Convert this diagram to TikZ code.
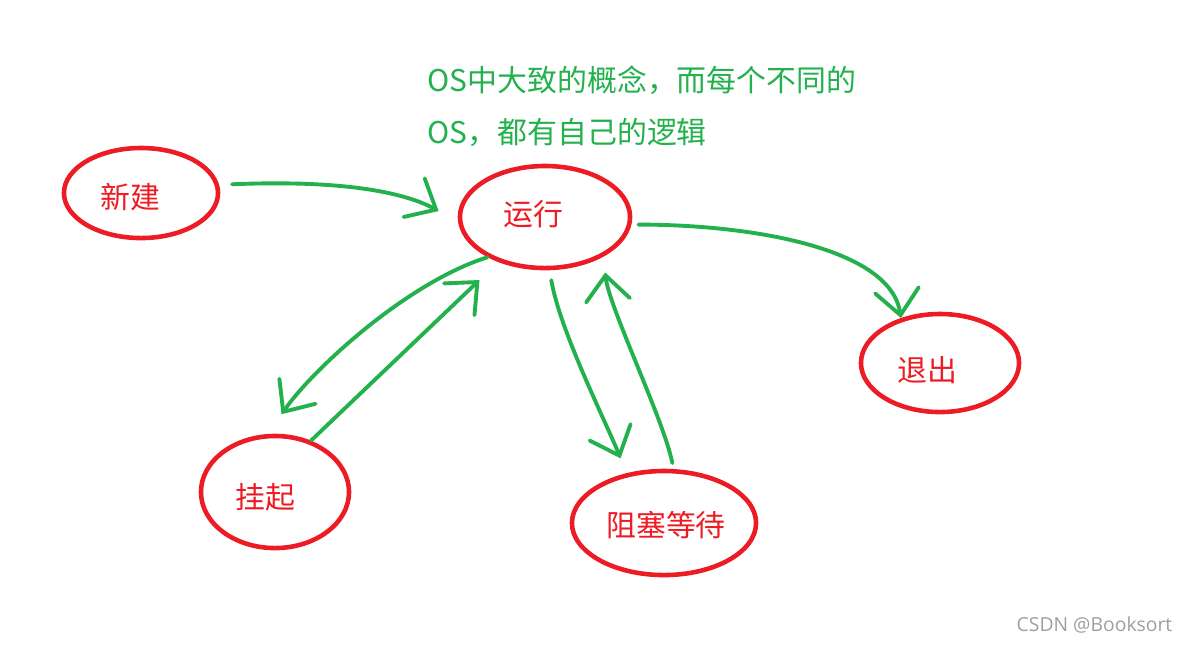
\documentclass[tikz,border=0pt]{standalone}
\usepackage{fontspec}
\usepackage{xcolor}
\usetikzlibrary{shapes.geometric, arrows.meta}
\newfontfamily\cjk{Noto Sans CJK SC}
\newfontfamily\marksans{Open Sans}
\definecolor{paintred}{HTML}{ED1C24}
\definecolor{paintgreen}{HTML}{22B14C}

\begin{document}
\begin{tikzpicture}[x=0.01cm, y=-0.01cm,
		statebox/.style={ellipse, draw=paintred, line width=1.3pt, inner sep=0pt},
		statelabel/.style={inner sep=0pt, text=paintred, font=\cjk\fontsize{8.5pt}{10pt}\selectfont},
		flow/.style={draw=paintgreen, line width=1.1pt, line cap=round, -{Straight Barb[length=2.5mm, width=4.4mm, line cap=round]}},
		notetext/.style={anchor=west, inner sep=0pt, text=paintgreen, font=\cjk\fontsize{8.5pt}{10pt}\selectfont}]
			\useasboundingbox (0,0) rectangle (1189,644);
			\node[statebox, minimum width=1.54cm, minimum height=0.90cm, label={[statelabel, shift={(-11,4)}]center:新建}] (xinjian) at (141,193) {};
			\node[statebox, minimum width=1.70cm, minimum height=1.02cm, label={[statelabel, shift={(-12,-3)}]center:运行}] (yunxing) at (545,217) {};
			\node[statebox, minimum width=1.58cm, minimum height=0.98cm, label={[statelabel, shift={(-13,7)}]center:退出}] (tuichu) at (940,363) {};
			\node[statebox, minimum width=1.48cm, minimum height=1.12cm, label={[statelabel, shift={(-10,5)}]center:挂起}] (guaqi) at (275,492) {};
			\node[statebox, minimum width=1.84cm, minimum height=1.04cm, label={[statelabel, shift={(2,2)}]center:阻塞等待}] (zusai) at (664,523) {};
			\node[notetext] (note1) at (427,80) {OS中大致的概念，而每个不同的};
			\node[notetext] (note2) at (427,132) {OS，都有自己的逻辑};
			\node[anchor=east, inner sep=0pt, text=gray!75, font=\marksans\fontsize{5.5pt}{6.5pt}\selectfont] (mark) at (1173,625) {CSDN @Booksort};
			\draw[flow, shorten <=0.13cm, shorten >=0.22cm] (xinjian.6) .. controls +(120,-5) and +(-55,-30) .. (yunxing.183);
			\draw[flow, shorten <=0.07cm] (yunxing.-5) .. controls +(120,0) and +(-10,-70) .. (tuichu.131);
			\draw[flow, shorten >=0.24cm] (yunxing.215) .. controls +(-80,25) and +(45,-65) .. (guaqi.97);
			\draw[flow, shorten >=0.26cm] (guaqi.55) -- (yunxing.224);
			\draw[flow, shorten <=0.10cm, shorten >=0.16cm] (yunxing.275) .. controls +(10,60) and +(-20,-50) .. (zusai.127);
			\draw[flow, shorten <=0.06cm, shorten >=0.16cm] (zusai.80) .. controls +(-10,-50) and +(5,50) .. (yunxing.-34);
		\end{tikzpicture}
\end{document}
